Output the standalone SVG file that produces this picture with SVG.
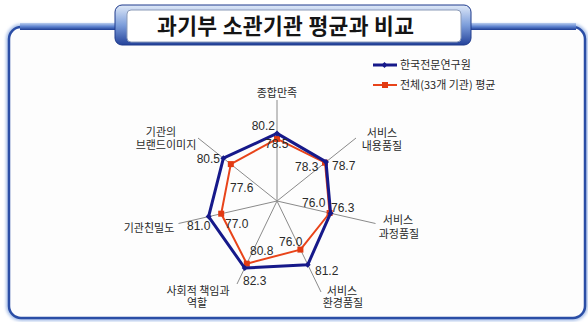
<svg xmlns="http://www.w3.org/2000/svg" width="588" height="322" viewBox="0 0 588 322">
<defs>
<linearGradient id="band" x1="0" y1="0" x2="0" y2="1">
<stop offset="0" stop-color="#b9cdf0"/>
<stop offset="0.5" stop-color="#5e83cf"/>
<stop offset="1" stop-color="#1d3c93"/>
</linearGradient>
<linearGradient id="titleG" x1="0" y1="0" x2="0" y2="1">
<stop offset="0" stop-color="#dfe9f8"/>
<stop offset="0.5" stop-color="#7d9edb"/>
<stop offset="1" stop-color="#23429a"/>
</linearGradient>
<filter id="soft" x="-5%" y="-5%" width="110%" height="110%">
<feGaussianBlur stdDeviation="1.5"/>
</filter>
</defs>
<style>
.ax{stroke:#8a8a8a;stroke-width:1;fill:none}
.lb{font-family:"Noto Sans CJK KR","Noto Sans",sans-serif;font-size:11px;fill:#2a2a2a;text-anchor:middle}
.num{font-family:"Liberation Sans",Arial,sans-serif;font-size:12px;fill:#2a2a2a}
.lg{font-family:"Noto Sans CJK KR","Noto Sans",sans-serif;font-size:11px;fill:#2a2a2a}
.blue{fill:none;stroke:#16198a;stroke-width:3;stroke-linejoin:round}
.red{fill:none;stroke:#e8441a;stroke-width:2;stroke-linejoin:round}
</style>
<rect width="588" height="322" fill="#ffffff"/>
<g id="frame">
<rect x="9" y="27" width="576" height="291" rx="12" fill="none" stroke="#a9c0e8" stroke-width="6" filter="url(#soft)"/>
<rect x="9" y="27" width="576" height="291" rx="12" fill="#fdfdfd" stroke="#2b4ea6" stroke-width="2.5"/>
<rect x="20" y="23" width="556" height="7" fill="url(#band)"/>
</g>
<g id="title">
<rect x="115" y="5" width="356" height="40" rx="7" fill="url(#titleG)" stroke="#1e3a8c" stroke-width="1"/>
<rect x="127" y="10" width="334" height="32" rx="4" fill="#ffffff" stroke="#8c9bb8" stroke-width="1"/>
<text x="285.5" y="34" textLength="257" lengthAdjust="spacing" style="font-family:'Noto Sans CJK KR','Noto Sans',sans-serif;font-size:21.5px;font-weight:bold;fill:#151515;text-anchor:middle">과기부 소관기관 평균과 비교</text>
</g>
<g id="legend">
<line x1="373" y1="65" x2="397" y2="65" stroke="#16198a" stroke-width="3"/>
<path d="M384.5 62 L387.5 65 L384.5 68 L381.5 65 Z" fill="#16198a"/>
<text class="lg" x="400" y="69">한국전문연구원</text>
<line x1="373" y1="85" x2="397" y2="85" stroke="#e8441a" stroke-width="2"/>
<rect x="382" y="82" width="6" height="6" fill="#e23a12"/>
<text class="lg" x="400" y="89">전체(33개 기관) 평균</text>
</g>
<g id="axes">
<line class="ax" x1="277" y1="201" x2="277" y2="100"/>
<line class="ax" x1="277" y1="201" x2="356" y2="138"/>
<line class="ax" x1="277" y1="201" x2="375.5" y2="223.5"/>
<line class="ax" x1="277" y1="201" x2="321" y2="292"/>
<line class="ax" x1="277" y1="201" x2="237" y2="284"/>
<line class="ax" x1="277" y1="201" x2="178.5" y2="223.5"/>
<line class="ax" x1="277" y1="201" x2="198" y2="138"/>
</g>
<g id="series-average">
<polygon class="red" points="277,138.9 325,162.7 329.6,213 300.4,249.6 246.8,263.7 221.2,213.7 230.8,164.1"/>
<g fill="#e23a12">
<rect x="274" y="135.9" width="6" height="6"/>
<rect x="322" y="159.7" width="6" height="6"/>
<rect x="326.6" y="210" width="6" height="6"/>
<rect x="297.4" y="246.6" width="6" height="6"/>
<rect x="243.8" y="260.7" width="6" height="6"/>
<rect x="218.2" y="210.7" width="6" height="6"/>
<rect x="227.8" y="161.1" width="6" height="6"/>
</g>
</g>
<g id="series-kasi">
<polygon class="blue" points="277,133.4 326,161.9 330.6,213.2 307.7,264.8 244.7,268 208.6,216.6 223.4,158.2"/>
<g fill="#16198a">
<path d="M277 130.4 l3 3 l-3 3 l-3 -3 Z"/>
<path d="M326 158.9 l3 3 l-3 3 l-3 -3 Z"/>
<path d="M330.6 210.2 l3 3 l-3 3 l-3 -3 Z"/>
<path d="M307.7 261.8 l3 3 l-3 3 l-3 -3 Z"/>
<path d="M244.7 265 l3 3 l-3 3 l-3 -3 Z"/>
<path d="M208.6 213.6 l3 3 l-3 3 l-3 -3 Z"/>
<path d="M223.4 155.2 l3 3 l-3 3 l-3 -3 Z"/>
</g>
</g>
<g id="axis-labels">
<text class="lb" x="277" y="97">종합만족</text>
<text class="lb" x="382" y="137">서비스<tspan x="382" dy="13">내용품질</tspan></text>
<text class="lb" x="398" y="224">서비스<tspan x="399" dy="14">과정품질</tspan></text>
<text class="lb" x="342" y="295">서비스<tspan x="343" dy="12">환경품질</tspan></text>
<text class="lb" x="198" y="295">사회적 책임과<tspan x="197" dy="12">역할</tspan></text>
<text class="lb" x="149" y="232">기관친밀도</text>
<text class="lb" x="161" y="136">기관의<tspan x="166" dy="13">브랜드이미지</tspan></text>
</g>
<g id="value-labels">
<text class="num" x="275" y="130" text-anchor="end">80.2</text>
<text class="num" x="265" y="148">78.5</text>
<text class="num" x="295" y="171">78.3</text>
<text class="num" x="332" y="170">78.7</text>
<text class="num" x="302" y="207">76.0</text>
<text class="num" x="331" y="212">76.3</text>
<text class="num" x="279" y="246">76.0</text>
<text class="num" x="315" y="275">81.2</text>
<text class="num" x="250" y="255">80.8</text>
<text class="num" x="243" y="285">82.3</text>
<text class="num" x="187" y="230">81.0</text>
<text class="num" x="225" y="228">77.0</text>
<text class="num" x="230" y="192">77.6</text>
<text class="num" x="220" y="163" text-anchor="end">80.5</text>
</g>
</svg>
